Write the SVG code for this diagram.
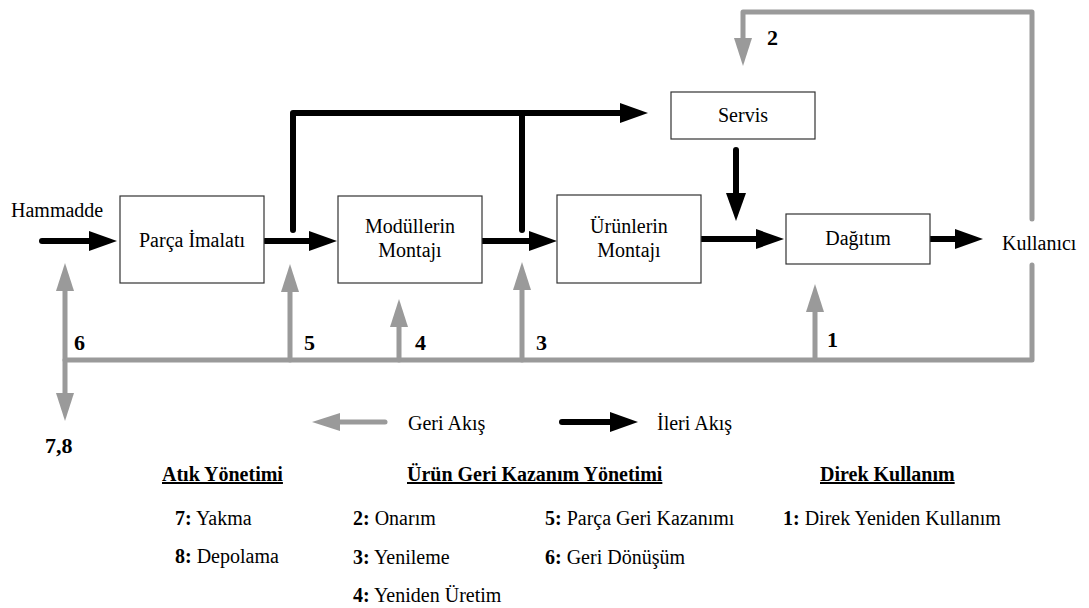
<svg xmlns="http://www.w3.org/2000/svg" width="1089" height="608" viewBox="0 0 1089 608">
  <style>
    text { font-family: "Times New Roman", Times, "Liberation Serif", Tinos, "Nimbus Roman", "Noto Serif", "DejaVu Serif", serif; font-size: 20px; fill: #000; }
    .b { font-weight: bold; }
    .num { font-weight: bold; font-size: 22px; }
    .head { font-weight: bold; text-decoration: underline; }
    .mid { text-anchor: middle; }
    .box { fill: #fff; stroke: #333; stroke-width: 1.2; }
    .fwd { fill: none; stroke: #000; stroke-width: 6; stroke-linecap: round; stroke-linejoin: round; }
    .back { fill: none; stroke: #9a9a9a; stroke-width: 5; stroke-linecap: round; stroke-linejoin: round; }
  </style>
  <defs>
    <marker id="headFwd" viewBox="0 0 28 20" refX="2" refY="10" markerWidth="28" markerHeight="20" markerUnits="userSpaceOnUse" orient="auto">
      <path d="M0,0 L28,10 L0,20 Z" fill="#000"/>
    </marker>
    <marker id="headBack" viewBox="0 0 28 18" refX="2" refY="9" markerWidth="28" markerHeight="18" markerUnits="userSpaceOnUse" orient="auto">
      <path d="M0,0 L28,9 L0,18 Z" fill="#9a9a9a"/>
    </marker>
    <marker id="headBackStart" viewBox="0 0 28 18" refX="26" refY="9" markerWidth="28" markerHeight="18" markerUnits="userSpaceOnUse" orient="auto">
      <path d="M28,0 L0,9 L28,18 Z" fill="#9a9a9a"/>
    </marker>
  </defs>

  <!-- connectors -->
  <g id="connectors">
    <!-- return flows (grey) -->
    <path class="back" d="M65,360 H1032 V265"/>
    <path class="back" d="M1032,219 V12 H743 V40" marker-end="url(#headBack)"/>
    <path class="back" d="M65,289 V395" marker-start="url(#headBackStart)" marker-end="url(#headBack)"/>
    <path class="back" d="M290,360 V290" marker-end="url(#headBack)"/>
    <path class="back" d="M399,360 V325" marker-end="url(#headBack)"/>
    <path class="back" d="M522,360 V288" marker-end="url(#headBack)"/>
    <path class="back" d="M815,359 V310" marker-end="url(#headBack)"/>

    <!-- forward flows (black) -->
    <path class="fwd" d="M42,241 H91" marker-end="url(#headFwd)"/>
    <path class="fwd" d="M265,241 H311" marker-end="url(#headFwd)"/>
    <path class="fwd" d="M293,230 V113 H622" marker-end="url(#headFwd)"/>
    <path class="fwd" d="M522,230 V113"/>
    <path class="fwd" d="M482,241 H531" marker-end="url(#headFwd)"/>
    <path class="fwd" d="M701,239 H758" marker-end="url(#headFwd)"/>
    <path class="fwd" d="M736,150 V195" marker-end="url(#headFwd)"/>
    <path class="fwd" d="M929,239 H957" marker-end="url(#headFwd)"/>
  </g>

  <!-- process nodes -->
  <g id="parca-imalati">
    <rect class="box" x="120" y="196" width="144" height="87"/>
    <text class="mid" x="192" y="247">Parça İmalatı</text>
  </g>
  <g id="modullerin-montaji">
    <rect class="box" x="338" y="196" width="144" height="87"/>
    <text class="mid" x="410" y="233">Modüllerin</text>
    <text class="mid" x="410" y="257">Montajı</text>
  </g>
  <g id="urunlerin-montaji">
    <rect class="box" x="557" y="195" width="144" height="88"/>
    <text class="mid" x="629" y="233">Ürünlerin</text>
    <text class="mid" x="629" y="257">Montajı</text>
  </g>
  <g id="servis">
    <rect class="box" x="671" y="92" width="144" height="47"/>
    <text class="mid" x="743" y="122">Servis</text>
  </g>
  <g id="dagitim">
    <rect class="box" x="786" y="214" width="144" height="50"/>
    <text class="mid" x="858" y="245">Dağıtım</text>
  </g>
  <g id="hammadde">
    <text x="11" y="217">Hammadde</text>
  </g>
  <g id="kullanici">
    <text x="1002" y="250">Kullanıcı</text>
  </g>

  <!-- flow numbers -->
  <g id="flow-numbers">
    <text class="num" x="74" y="350">6</text>
    <text class="num" x="304" y="350">5</text>
    <text class="num" x="415" y="350">4</text>
    <text class="num" x="536" y="350">3</text>
    <text class="num" x="827" y="347">1</text>
    <text class="num" x="767" y="45">2</text>
    <text class="num" x="45" y="453">7,8</text>
  </g>

  <!-- legend -->
  <g id="legend">
    <path class="back" d="M385,422 H338" marker-end="url(#headBack)"/>
    <text x="408" y="430">Geri Akış</text>
    <path class="fwd" d="M562,422 H612" marker-end="url(#headFwd)"/>
    <text x="657" y="430">İleri Akış</text>
  </g>

  <!-- categories -->
  <g id="atik-yonetimi">
    <text class="head" x="162" y="481">Atık Yönetimi</text>
    <text x="175" y="525"><tspan class="b">7:</tspan> Yakma</text>
    <text x="175" y="563"><tspan class="b">8:</tspan> Depolama</text>
  </g>
  <g id="urun-geri-kazanim">
    <text class="head" x="407" y="481">Ürün Geri Kazanım Yönetimi</text>
    <text x="353" y="525"><tspan class="b">2:</tspan> Onarım</text>
    <text x="353" y="564"><tspan class="b">3:</tspan> Yenileme</text>
    <text x="353" y="602"><tspan class="b">4:</tspan> Yeniden Üretim</text>
    <text x="545" y="525"><tspan class="b">5:</tspan> Parça Geri Kazanımı</text>
    <text x="545" y="564"><tspan class="b">6:</tspan> Geri Dönüşüm</text>
  </g>
  <g id="direk-kullanim">
    <text class="head" x="820" y="481">Direk Kullanım</text>
    <text x="783" y="525"><tspan class="b">1:</tspan> Direk Yeniden Kullanım</text>
  </g>
</svg>
